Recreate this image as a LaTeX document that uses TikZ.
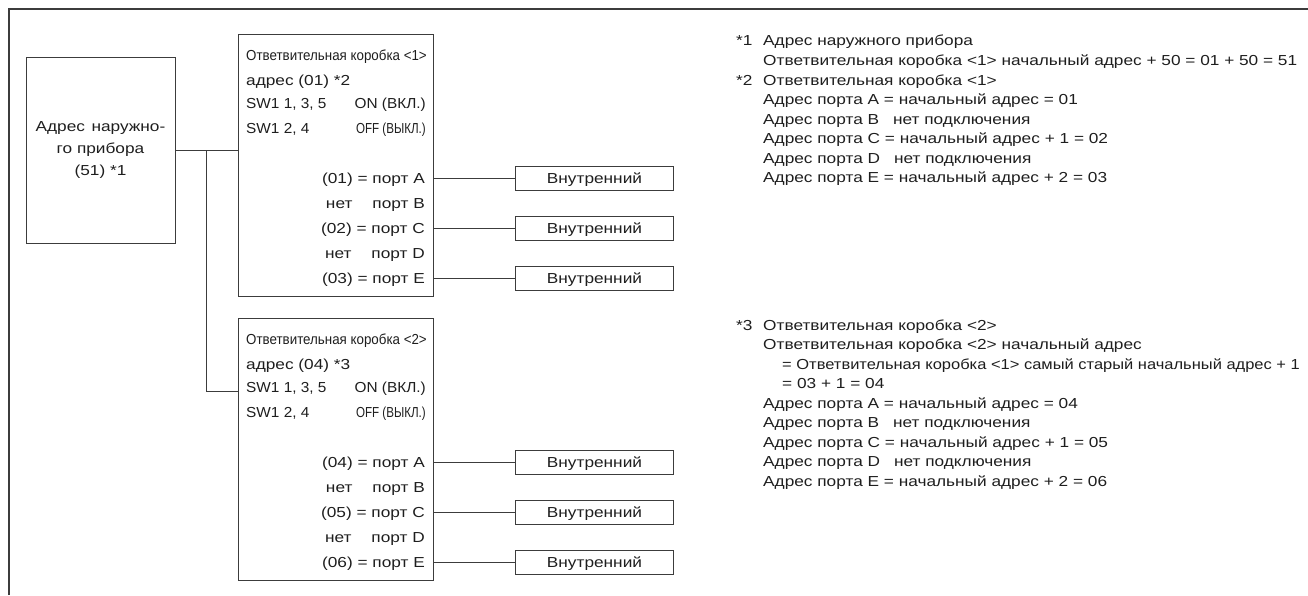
\documentclass[tikz,border=0pt]{standalone}
\usepackage{graphicx}
\usepackage{fontspec}
\setmainfont{Liberation Sans}[FakeStretch=1.19]
\newfontfamily\swfont{Liberation Sans}[FakeStretch=1.06]
\newfontfamily\narrowfont{Liberation Sans}[FakeStretch=0.92]
\newfontfamily\condfont{Liberation Sans}[FakeStretch=0.8]
\usetikzlibrary{positioning,calc}

\definecolor{linegray}{HTML}{3C3C3C}
\definecolor{textgray}{HTML}{1E1E1E}

\begin{document}
\begin{tikzpicture}[x=1pt, y=-1pt,
    box/.style={rectangle, draw=linegray, line width=1pt, inner sep=0pt},
    txt/.style={inner sep=0pt, text=textgray, font=\fontsize{14.5pt}{19.5pt}\selectfont},
    sw/.style={txt, font=\swfont\fontsize{14.5pt}{19.5pt}\selectfont},
    narrow/.style={txt, font=\narrowfont\fontsize{14.5pt}{19.5pt}\selectfont},
    cond/.style={txt, font=\condfont\fontsize{14.5pt}{19.5pt}\selectfont},
    wire/.style={draw=linegray, line width=1pt},
    unit/.style={box, txt, minimum width=158pt, minimum height=24pt, text height=10.4pt, text depth=0pt}
]
    \useasboundingbox (0,0) rectangle (1308,595);
    \draw[wire, line width=1.3pt] (9,595) -- (9,9) -- (1308,9);

    % outdoor unit
    \node[box, txt, minimum width=149pt, minimum height=186pt, align=center,
          font=\fontsize{14.5pt}{21.7pt}\selectfont] (outdoor) at (100.5,150)
          {Адрес\hspace{6.5pt}наружно-\\го прибора\\(51) *1};

    % branch boxes with their indoor units
    \foreach \b/\off/\adr/\nt/\pa/\pc/\pe in {1/0/01/2/01/02/03, 2/284/04/3/04/05/06} {
        \node[box, minimum width=195pt, minimum height=262pt] (jb\b) at (335.5,{165+\off}) {};
        \node[narrow, anchor=base west] (jb\b-title) at (246,{60+\off}) {Ответвительная коробка <\b>};
        \node[txt, anchor=base west] (jb\b-adr) at (246,{85+\off}) {адрес (\adr) *\nt};
        \node[sw, anchor=base west] (jb\b-sw1) at (246,{108+\off}) {SW1 1, 3, 5};
        \node[sw, anchor=base east] (jb\b-on) at (426,{108+\off}) {ON (ВКЛ.)};
        \node[sw, anchor=base west] (jb\b-sw2) at (246,{133+\off}) {SW1 2, 4};
        \node[cond, anchor=base east] (jb\b-off) at (426,{133+\off}) {OFF (ВЫКЛ.)};

        \node[txt, anchor=base east] (jb\b-A) at (425,{183+\off}) {(\pa) = порт A};
        \node[txt, anchor=base east] (jb\b-B) at (425,{208+\off}) {нет\hspace{20pt}порт B};
        \node[txt, anchor=base east] (jb\b-C) at (425,{233+\off}) {(\pc) = порт C};
        \node[txt, anchor=base east] (jb\b-D) at (425,{258+\off}) {нет\hspace{20pt}порт D};
        \node[txt, anchor=base east] (jb\b-E) at (425,{283+\off}) {(\pe) = порт E};

        \foreach \p/\dy in {A/178, C/228, E/278} {
            \node[unit] (in\b-\p) at (594.5,{\dy+\off}) {Внутренний};
            \draw[wire] (in\b-\p.west -| jb\b.east) -- (in\b-\p.west);
        }
    }

    % outdoor unit to the branch boxes
    \coordinate (tap) at (206,150);
    \coordinate (jb2-in) at (238,391);
    \draw[wire] (outdoor.east) -- (outdoor.east -| jb1.west);
    \draw[wire] (tap) |- (jb2-in);

    % notes
    \node[txt, anchor=north west] (note1) at (736,32) {%
        \begin{tabular}{@{}p{27pt}@{}l@{}}
        *1 & Адрес наружного прибора\\
           & Ответвительная коробка <1> начальный адрес + 50 = 01 + 50 = 51
        \end{tabular}};
    \node[txt, anchor=north west] (note2) at (note1.south west) {%
        \begin{tabular}{@{}p{27pt}@{}l@{}}
        *2 & Ответвительная коробка <1>\\
           & Адрес порта A = начальный адрес = 01\\
           & Адрес порта B\hspace{14pt}нет подключения\\
           & Адрес порта C = начальный адрес + 1 = 02\\
           & Адрес порта D\hspace{14pt}нет подключения\\
           & Адрес порта E = начальный адрес + 2 = 03
        \end{tabular}};
    \node[txt, anchor=north west] (note3) at (736,316.4) {%
        \begin{tabular}{@{}p{27pt}@{}l@{}}
        *3 & Ответвительная коробка <2>\\
           & Ответвительная коробка <2> начальный адрес\\
           & \hspace*{19pt}\scalebox{0.955}[1]{= Ответвительная коробка <1> самый старый начальный адрес + 1}\\
           & \hspace*{19pt}= 03 + 1 = 04\\
           & Адрес порта A = начальный адрес = 04\\
           & Адрес порта B\hspace{14pt}нет подключения\\
           & Адрес порта C = начальный адрес + 1 = 05\\
           & Адрес порта D\hspace{14pt}нет подключения\\
           & Адрес порта E = начальный адрес + 2 = 06
        \end{tabular}};
\end{tikzpicture}
\end{document}
